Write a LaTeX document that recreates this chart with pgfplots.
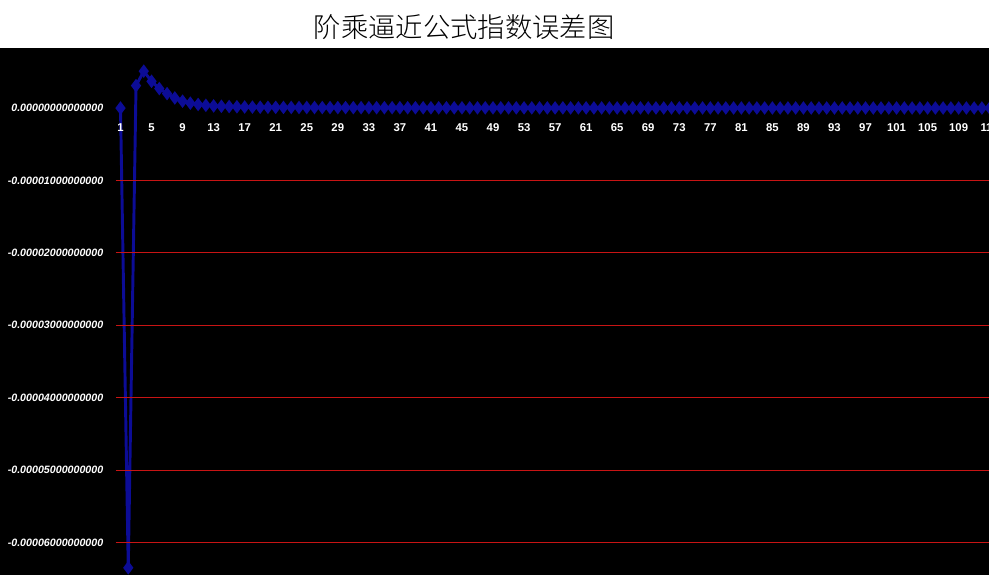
\documentclass[border=0pt]{standalone}
\usepackage{pgfplots}
\pgfplotsset{compat=1.18}
\usepackage{fontspec}
\setmainfont{Liberation Sans}
\newfontfamily\cjk{Noto Sans CJK SC}[UprightFont={* Light}]
\definecolor{serblue}{RGB}{12,12,150}
\definecolor{gridred}{RGB}{200,20,20}
\pgfplotstableread{
n e
1 0
2 -6.35
3 0.31
4 0.51
5 0.37
6 0.27
7 0.20
8 0.14
9 0.095
10 0.068
11 0.050
12 0.038
13 0.030
14 0.025
15 0.021
16 0.018
17 0.015
18 0.013
19 0.012
20 0.011
21 0.010
22 0.0095
23 0.009
24 0.0085
25 0.008
26 0.0076
27 0.0072
28 0.0068
29 0.0065
30 0.0062
31 0.0059
32 0.0056
33 0.0054
34 0.0052
35 0.0050
36 0.0048
37 0.0046
38 0.0044
39 0.0043
40 0.0041
41 0.0040
42 0.0039
43 0.0038
44 0.0037
45 0.0036
46 0.0035
47 0.0034
48 0.0033
49 0.0032
50 0.0031
51 0.0030
52 0.0030
53 0.0029
54 0.0028
55 0.0028
56 0.0027
57 0.0026
58 0.0026
59 0.0025
60 0.0025
61 0.0024
62 0.0024
63 0.0023
64 0.0023
65 0.0022
66 0.0022
67 0.0021
68 0.0021
69 0.0021
70 0.0020
71 0.0020
72 0.0019
73 0.0019
74 0.0019
75 0.0018
76 0.0018
77 0.0018
78 0.0017
79 0.0017
80 0.0017
81 0.0016
82 0.0016
83 0.0016
84 0.0016
85 0.0015
86 0.0015
87 0.0015
88 0.0015
89 0.0014
90 0.0014
91 0.0014
92 0.0014
93 0.0013
94 0.0013
95 0.0013
96 0.0013
97 0.0013
98 0.0012
99 0.0012
100 0.0012
101 0.0012
102 0.0012
103 0.0011
104 0.0011
105 0.0011
106 0.0011
107 0.0011
108 0.0011
109 0.0010
110 0.0010
111 0.0010
112 0.0010
113 0.0010
114 0.0010
}\errdata
\begin{document}
\begin{tikzpicture}
\path[use as bounding box, fill=white] (0pt,0pt) rectangle (741.75pt,431.25pt);
\fill[black] (0pt,0pt) rectangle (741.75pt,395.25pt);
\node[font=\cjk\fontsize{20.5}{24}\selectfont, text=black] at (348pt,411pt) {阶乘逼近公式指数误差图};
\begin{axis}[
  at={(87pt,0pt)}, anchor=south west,
  scale only axis, width=666.9pt, height=395.25pt,
  xmin=0.42, xmax=115, ymin=-6.45, ymax=0.83,
  axis x line*=middle, axis y line*=left,
  axis line style={draw=none},
  axis on top,
  hide obscured x ticks=false,
  major tick length=0pt,
  xtick={1,5,...,113},
  xticklabels={1,5,9,13,17,21,25,29,33,37,41,45,49,53,57,61,65,69,73,77,81,85,89,93,97,101,105,109,113},
  ytick={-6,-5,-4,-3,-2,-1},
  yticklabels={-0.00006000000000,-0.00005000000000,-0.00004000000000,-0.00003000000000,-0.00002000000000,-0.00001000000000},
  extra y ticks={0},
  extra y tick labels={0.00000000000000},
  extra y tick style={ymajorgrids=false},
  ymajorgrids,
  grid style={gridred, line width=0.75pt},
  yticklabel style={text=white, font=\fontsize{8}{9}\selectfont\bfseries\itshape, xshift=-6pt},
  xticklabel style={text=white, font=\fontsize{8.5}{10}\selectfont\bfseries, yshift=-8pt},
  clip=false,
]
\addplot[serblue, line width=2.2pt, mark=diamond*, mark size=3.3pt, mark options={serblue}] table[x=n, y=e] {\errdata};
\end{axis}
\end{tikzpicture}
\end{document}
